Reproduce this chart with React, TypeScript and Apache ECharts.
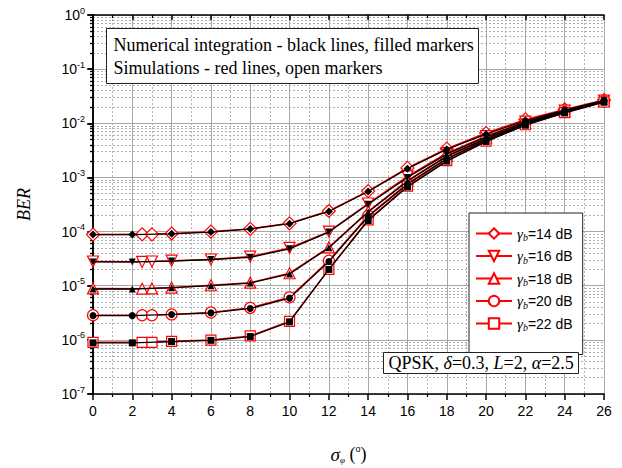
import React, { useEffect, useRef } from "react";
import * as echarts from "echarts";

// ---- data ----
const X_NUM = [0, 2, 4, 6, 8, 10, 12, 14, 16, 18, 20, 22, 24, 26];
const X_SIM = [0, 2.5, 3, 4, 6, 8, 10, 12, 14, 16, 18, 20, 22, 24, 26];
const GAMMA_DB = ["14", "16", "18", "20", "22"];

const NUM_14 = [8.8e-5, 8.8e-5, 9.1e-5, 9.8e-5, 1.12e-4, 1.4e-4, 2.35e-4, 5.5e-4, 1.45e-3, 3.3e-3, 6.3e-3, 1.12e-2, 1.75e-2, 2.65e-2];
const NUM_16 = [2.75e-5, 2.75e-5, 2.85e-5, 3.05e-5, 3.35e-5, 4.8e-5, 9.8e-5, 3.2e-4, 1.0e-3, 2.7e-3, 5.6e-3, 1.05e-2, 1.7e-2, 2.6e-2];
const NUM_18 = [8.7e-6, 8.7e-6, 9.2e-6, 1.0e-5, 1.12e-5, 1.65e-5, 5.0e-5, 2.3e-4, 8.5e-4, 2.45e-3, 5.2e-3, 1.0e-2, 1.65e-2, 2.55e-2];
const NUM_20 = [2.8e-6, 2.8e-6, 2.95e-6, 3.15e-6, 3.8e-6, 5.9e-6, 2.8e-5, 1.9e-4, 7.5e-4, 2.2e-3, 4.9e-3, 9.6e-3, 1.6e-2, 2.5e-2];
const NUM_22 = [8.8e-7, 8.8e-7, 9.3e-7, 9.8e-7, 1.15e-6, 2.15e-6, 2.0e-5, 1.6e-4, 6.7e-4, 2.0e-3, 4.6e-3, 9.2e-3, 1.55e-2, 2.45e-2];

const SIM_14 = [8.8e-5, 8.9e-5, 8.9e-5, 9.2e-5, 1.0e-4, 1.12e-4, 1.42e-4, 2.4e-4, 5.6e-4, 1.5e-3, 3.4e-3, 6.6e-3, 1.18e-2, 1.8e-2, 2.7e-2];
const SIM_16 = [2.8e-5, 2.75e-5, 2.8e-5, 2.9e-5, 3.05e-5, 3.45e-5, 5.0e-5, 1.0e-4, 3.3e-4, 1.05e-3, 2.8e-3, 5.8e-3, 1.07e-2, 1.72e-2, 2.62e-2];
const SIM_18 = [8.9e-6, 8.8e-6, 8.9e-6, 9.2e-6, 1.02e-5, 1.14e-5, 1.7e-5, 5.1e-5, 2.35e-4, 8.7e-4, 2.5e-3, 5.3e-3, 1.02e-2, 1.67e-2, 2.57e-2];
const SIM_20 = [2.85e-6, 2.85e-6, 2.85e-6, 2.95e-6, 3.2e-6, 3.9e-6, 6.1e-6, 2.9e-5, 1.95e-4, 7.7e-4, 2.25e-3, 5.0e-3, 9.8e-3, 1.62e-2, 2.52e-2];
const SIM_22 = [9.0e-7, 9.0e-7, 9.0e-7, 9.4e-7, 9.9e-7, 1.18e-6, 2.2e-6, 2.0e-5, 1.65e-4, 6.9e-4, 2.05e-3, 4.7e-3, 9.4e-3, 1.57e-2, 2.47e-2];

const NUM_SERIES = [NUM_14, NUM_16, NUM_18, NUM_20, NUM_22];
const SIM_SERIES = [SIM_14, SIM_16, SIM_18, SIM_20, SIM_22];
const SYMBOLS = ["diamond", "triangle", "triangle", "circle", "rect"];
const ROTATE = [0, 180, 0, 0, 0];

const SANS = "'Liberation Sans', Arial, sans-serif";
const SERIF = "'Liberation Serif', 'Times New Roman', serif";

export default function App() {
  const ref = useRef<HTMLDivElement>(null);

  useEffect(() => {
    if (!ref.current) return;
    const chart = echarts.init(ref.current, null, { renderer: "svg" });

    const simSeries = SIM_SERIES.map((vals, i) => ({
      type: "line",
      name: GAMMA_DB[i],
      data: X_SIM.map((x, j) => [x, vals[j]]),
      symbol: SYMBOLS[i],
      symbolRotate: ROTATE[i],
      symbolSize: SYMBOLS[i] === "diamond" ? 13 : SYMBOLS[i] === "rect" ? 10 : 11,
      showAllSymbol: true,
      lineStyle: { color: "#ff0000", width: 1.5 },
      itemStyle: { color: "#ffffff", borderColor: "#ff0000", borderWidth: 1.2 },
      z: 2,
    }));

    const numSeries = NUM_SERIES.map((vals, i) => ({
      type: "line",
      name: "num" + GAMMA_DB[i],
      data: X_NUM.map((x, j) => [x, vals[j]]),
      symbol: SYMBOLS[i],
      symbolRotate: ROTATE[i],
      symbolSize: SYMBOLS[i] === "diamond" ? 8 : 7,
      showAllSymbol: true,
      lineStyle: { color: "#000000", width: 1.3 },
      itemStyle: { color: "#000000" },
      z: 3,
    }));

    const yLabel = (v: number) => {
      const e = Math.round(Math.log10(v));
      return `{b|10}{s|${e}}`;
    };

    const option = {
      animation: false,
      backgroundColor: "#ffffff",
      grid: { left: 93, right: 18, top: 15, bottom: 74, show: false, containLabel: false, outerBoundsMode: "none" },
      legend: {
        data: GAMMA_DB,
        orient: "vertical",
        left: 469,
        top: 213,
        width: 113,
        padding: [13, 10, 22, 6],
        itemGap: 6,
        itemWidth: 36,
        itemHeight: 13,
        backgroundColor: "#ffffff",
        borderColor: "#222222",
        borderWidth: 1,
        borderRadius: 0,
        z: 10,
        formatter: (name: string) => `{g|γ}{sb|b}{t|=${name} dB}`,
        textStyle: {
          fontFamily: SANS,
          fontSize: 14,
          color: "#000",
          rich: {
            g: { fontFamily: SERIF, fontStyle: "italic", fontSize: 15, color: "#000" },
            sb: { fontFamily: SERIF, fontStyle: "italic", fontSize: 10, color: "#000", padding: [8, 0, 0, 0] },
            t: { fontFamily: SANS, fontSize: 14, color: "#000" },
          },
        },
      },
      xAxis: [
        {
          type: "value",
          min: 0,
          max: 26,
          interval: 2,
          position: "bottom",
          name: "{s|σ}{sub|φ}{n| (}{sup|o}{n|)}",
          nameLocation: "middle",
          nameGap: 50,
          nameTextStyle: {
            rich: {
              s: { fontFamily: SERIF, fontStyle: "italic", fontSize: 19, color: "#000" },
              sub: { fontFamily: SERIF, fontStyle: "italic", fontSize: 9, color: "#000", padding: [11, 0, 0, 0] },
              n: { fontFamily: SERIF, fontSize: 18, color: "#000" },
              sup: { fontFamily: SANS, fontSize: 9, color: "#000", padding: [0, 0, 10, 0] },
            },
          },
          axisLine: { show: true, lineStyle: { color: "#000", width: 1.5 } },
          axisTick: { show: true, inside: false, length: 6, lineStyle: { color: "#000", width: 1.5 } },
          minorTick: { show: true, splitNumber: 2, length: 3, lineStyle: { color: "#000", width: 1.2 } },
          axisLabel: { fontFamily: SANS, fontSize: 14, color: "#000", margin: 10 },
          splitLine: { show: true, lineStyle: { color: "#a8a8a8", width: 1 } },
          minorSplitLine: { show: true, lineStyle: { color: "#b0b0b0", width: 1, type: [2, 2] } },
        },
        {
          type: "value",
          min: 0,
          max: 26,
          interval: 2,
          position: "top",
          axisLine: { show: true, lineStyle: { color: "#000", width: 1.5 } },
          axisTick: { show: true, inside: true, length: 5, lineStyle: { color: "#000", width: 1.5 } },
          minorTick: { show: true, splitNumber: 2, length: 3, lineStyle: { color: "#000", width: 1.2 } },
          axisLabel: { show: false },
          splitLine: { show: false },
        },
      ],
      yAxis: [
        {
          type: "log",
          logBase: 10,
          min: 1e-7,
          max: 1,
          name: "BER",
          nameLocation: "middle",
          nameGap: 60,
          nameTextStyle: { fontFamily: SERIF, fontStyle: "italic", fontSize: 18, color: "#000" },
          axisLine: { show: true, lineStyle: { color: "#000", width: 1.5 } },
          axisTick: { show: true, inside: false, length: 6, lineStyle: { color: "#000", width: 1.5 } },
          minorTick: { show: true, splitNumber: 9, length: 3, lineStyle: { color: "#000", width: 1.2 } },
          axisLabel: {
            formatter: yLabel,
            margin: 8,
            rich: {
              b: { fontFamily: SANS, fontSize: 14, color: "#000" },
              s: { fontFamily: SANS, fontSize: 9, color: "#000", padding: [0, 0, 9, 0] },
            },
          },
          splitLine: { show: true, lineStyle: { color: "#a8a8a8", width: 1 } },
          minorSplitLine: { show: true, lineStyle: { color: "#b0b0b0", width: 1, type: [2, 2] } },
        },
        {
          type: "log",
          logBase: 10,
          min: 1e-7,
          max: 1,
          position: "right",
          axisLine: { show: true, lineStyle: { color: "#000", width: 1.5 } },
          axisTick: { show: true, inside: true, length: 5, lineStyle: { color: "#000", width: 1.5 } },
          minorTick: { show: true, splitNumber: 9, length: 3, lineStyle: { color: "#000", width: 1.2 } },
          axisLabel: { show: false },
          splitLine: { show: false },
        },
      ],
      series: [...simSeries, ...numSeries],
      graphic: [
        {
          type: "group",
          left: 106,
          top: 28,
          z: 100,
          children: [
            {
              type: "rect",
              z: 100,
              shape: { x: 0, y: 0, width: 372, height: 55 },
              style: { fill: "#ffffff", stroke: "#222", lineWidth: 1 },
            },
            {
              type: "text",
              z: 101,
              x: 7,
              y: 5,
              style: {
                text: "Numerical integration - black lines, filled markers\nSimulations - red lines, open markers",
                font: `18px ${SERIF}`,
                fill: "#000",
                lineHeight: 23,
              },
            },
          ],
        },
        {
          type: "group",
          left: 383,
          top: 352,
          z: 100,
          children: [
            {
              type: "rect",
              z: 100,
              shape: { x: 0, y: 0, width: 195, height: 21 },
              style: { fill: "#ffffff", stroke: "#222", lineWidth: 1 },
            },
            {
              type: "text",
              z: 101,
              x: 5,
              y: 1,
              style: {
                text: "{n|QPSK, }{i|δ}{n|=0.3, }{i|L}{n|=2, }{i|α}{n|=2.5}",
                rich: {
                  n: { fontFamily: SERIF, fontSize: 18, fill: "#000" },
                  i: { fontFamily: SERIF, fontStyle: "italic", fontSize: 18, fill: "#000" },
                },
              },
            },
          ],
        },
      ],
    };

    chart.setOption(option as any);
    return () => chart.dispose();
  }, []);

  return (
    <div
      ref={ref}
      style={{ position: "absolute", left: 0, top: 0, width: 622, height: 468 }}
    />
  );
}
